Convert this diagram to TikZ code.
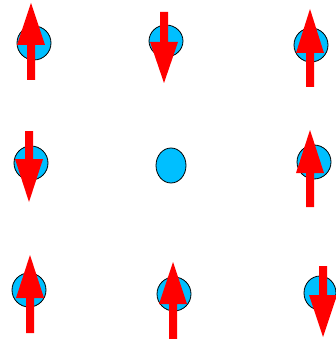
\documentclass[tikz,border=0pt]{standalone}
\usetikzlibrary{shapes.geometric}
\definecolor{spinblue}{RGB}{0,191,255}
\tikzset{
  spin/.style={ellipse, draw=black, line width=0.8pt, fill=spinblue, inner sep=0pt, minimum width=34pt, minimum height=34pt},
  spinarrow/.style={fill=red}
}
% \spinarr{x}{shaft end y}{head base y}{tip y}
\newcommand{\spinarr}[4]{%
  \fill[spinarrow] (#1-4,#2) -- (#1-4,#3) -- (#1-14,#3) -- (#1,#4) -- (#1+14,#3) -- (#1+4,#3) -- (#1+4,#2) -- cycle;}
\begin{document}
\begin{tikzpicture}[x=1pt,y=-1pt]
\useasboundingbox (0,0) rectangle (335,339);
% spins
\node[spin] (s11) at (34,43) {};
\node[spin, minimum height=32pt] (s12) at (166,41) {};
\node[spin] (s13) at (311,45) {};
\node[spin] (s21) at (31,163) {};
\node[spin, minimum width=30pt, minimum height=35pt] (s22) at (171,165.5) {};
\node[spin] (s23) at (314,162) {};
\node[spin] (s31) at (29,290) {};
\node[spin] (s32) at (174,294) {};
\node[spin, minimum width=32pt] (s33) at (320,293) {};
% arrows
\spinarr{31}{80}{45}{3}
\spinarr{164}{12}{42}{83}
\spinarr{310}{87}{53}{9}
\spinarr{29}{131}{159}{202}
\spinarr{310}{207}{173}{130}
\spinarr{30}{333}{298}{255}
\spinarr{173}{339}{304}{262}
\spinarr{323}{266}{295}{337}
\end{tikzpicture}
\end{document}
